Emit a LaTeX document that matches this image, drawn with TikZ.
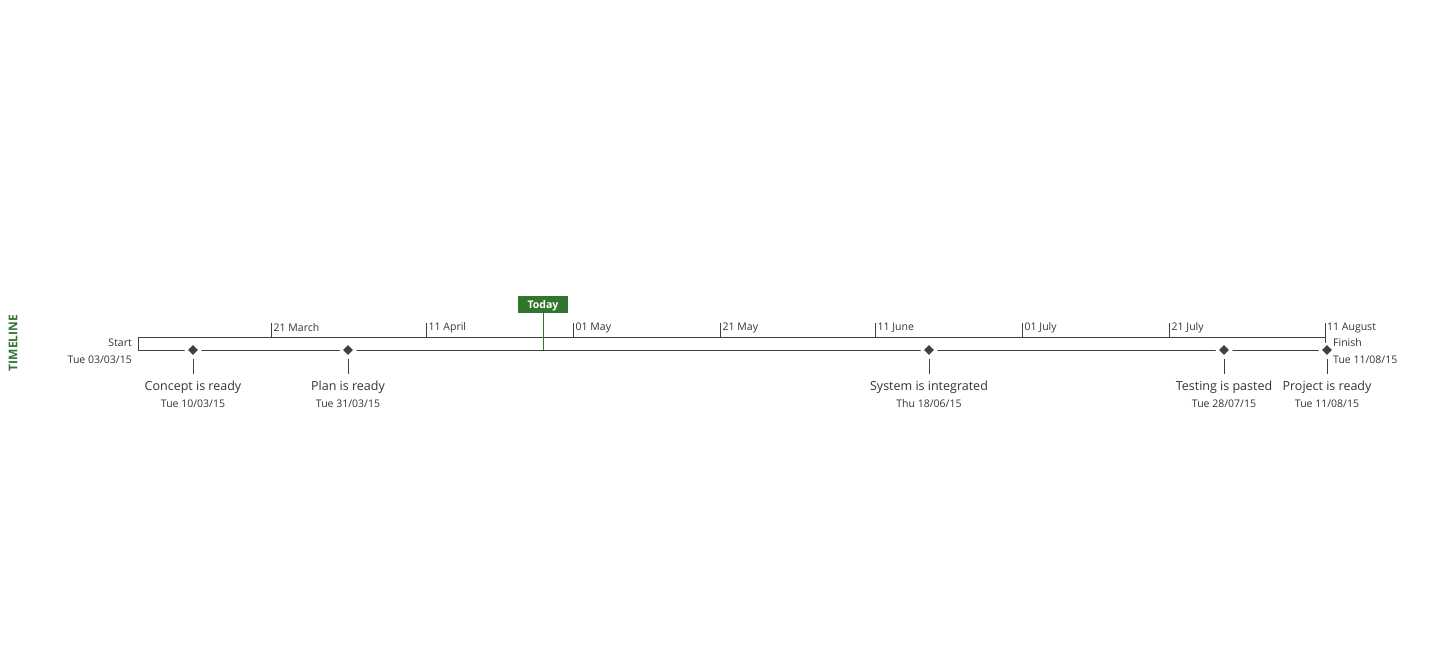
\documentclass[tikz,border=0pt]{standalone}
\usepackage{fontspec}
\setmainfont{Open Sans}
\usetikzlibrary{shapes.geometric}
\definecolor{tlgreen}{RGB}{49,117,47}
\definecolor{tlline}{RGB}{64,64,64}
\definecolor{tltext}{RGB}{51,51,51}
\tikzset{
  axis/.style={draw=tlline, line width=0.9pt},
  tickline/.style={draw=tlline, line width=0.9pt},
  ticklabel/.style={anchor=west, inner sep=0pt, font=\fontsize{10.5}{12}\selectfont, text=tltext},
  ms/.style={diamond, fill=tlline, draw=white, line width=2.5pt, minimum width=15pt, minimum height=15pt, inner sep=0pt},
  mname/.style={anchor=center, inner sep=0pt, font=\fontsize{12.5}{14}\selectfont, text=tltext},
  mdate/.style={anchor=center, inner sep=0pt, font=\fontsize{10.5}{12}\selectfont, text=tltext},
  sidelabel/.style={inner sep=0pt, font=\fontsize{10.5}{12}\selectfont, text=tltext},
}
\begin{document}
\begin{tikzpicture}[x=1pt,y=-1pt]
\useasboundingbox (0,0) rectangle (1439,668);
% vertical title
\node[rotate=90, text=tlgreen, font=\bfseries\fontsize{12}{14}\selectfont, inner sep=0pt] (title) at (13,343) {TIMELINE};
% frame
\coordinate (tl) at (138,337);
\coordinate (bl) at (138,350);
\coordinate (tr) at (1325,337);
\coordinate (trtop) at (1325,323);
\coordinate (trbot) at (1325,343);
\coordinate (br) at (1327,350);
\draw[axis] (bl) -- (tl) -- (tr);
\draw[axis] (trtop) -- (trbot);
\draw[axis] (bl) -- (br);
% ticks
\foreach \x/\lab/\nm in {271/21 March/t1, 426/11 April/t2, 573/01 May/t3, 720/21 May/t4, 875/11 June/t5, 1022/01 July/t6, 1169/21 July/t7}{
  \coordinate (\nm a) at (\x,323);
  \coordinate (\nm b) at (\x,337);
  \draw[tickline] (\nm a) -- (\nm b);
  \node[ticklabel] (\nm l) at (\x+2.5,327.5) {\lab};
}
\node[ticklabel] (t8l) at (1327,327.5) {11 August};
% today
\node[fill=tlgreen, text=white, font=\bfseries\fontsize{10.5}{12}\selectfont, minimum width=50pt, minimum height=17pt, inner sep=0pt, text height=8pt, text depth=0pt] (today) at (543,304.5) {Today};
\coordinate (todayb) at (543,350);
\draw[draw=tlgreen, line width=0.9pt] (today.south) -- (todayb);
% start / finish
\node[sidelabel, anchor=east] (start) at (132,343) {Start};
\node[sidelabel, anchor=east] (startd) at (132,359.5) {Tue 03/03/15};
\node[sidelabel, anchor=west] (finish) at (1333,343) {Finish};
\node[sidelabel, anchor=west] (finishd) at (1333,359.5) {Tue 11/08/15};
% milestones
\foreach \x/\name/\date/\nm in {193/Concept is ready/{Tue 10/03/15}/m1, 348/Plan is ready/{Tue 31/03/15}/m2, 929/System is integrated/{Thu 18/06/15}/m3, 1224/Testing is pasted/{Tue 28/07/15}/m4, 1327/Project is ready/{Tue 11/08/15}/m5}{
  \node[ms] (\nm) at (\x,350) {};
  \coordinate (\nm s) at (\x,374);
  \draw[draw=tlline, line width=0.6pt] (\nm.south) -- (\nm s);
  \node[mname] (\nm n) at (\x,387) {\name};
  \node[mdate] (\nm d) at (\x,404) {\date};
}
\end{tikzpicture}
\end{document}
